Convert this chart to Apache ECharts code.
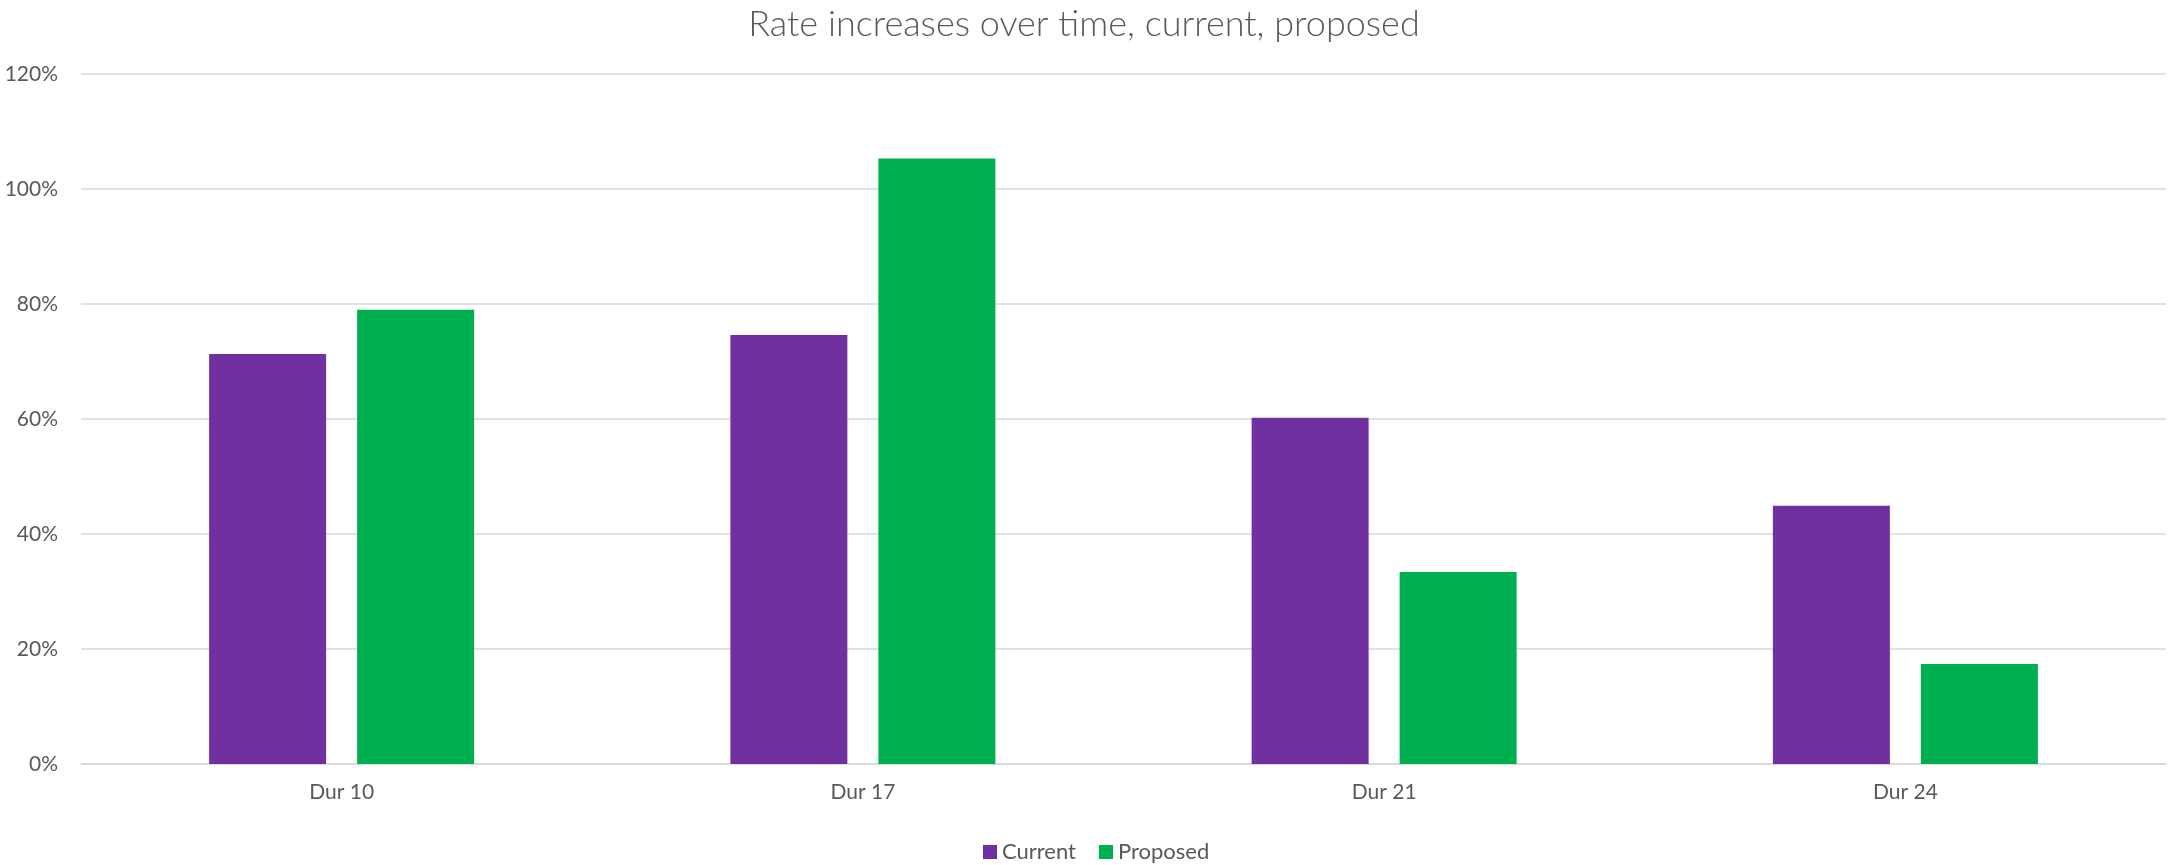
<!DOCTYPE html>
<html>
<head>
<meta charset="utf-8">
<script src="https://cdn.jsdelivr.net/npm/echarts@6/dist/echarts.min.js"></script>
<style>html,body{margin:0;padding:0;background:#fff}#c{width:2168px;height:865px}</style>
</head>
<body>
<div id="c"></div>
<script>
const categories = ['Dur 10', 'Dur 17', 'Dur 21', 'Dur 24'];
const currentValues = [71.3, 74.6, 60.2, 44.9];
const proposedValues = [79.0, 105.3, 33.4, 17.4];
const seriesNames = ['Current', 'Proposed'];
const titleText = 'Rate increases over time, current, proposed';

const chart = echarts.init(document.getElementById('c'), null, {renderer: 'canvas'});
const txt = '#595959';
chart.setOption({
  animation: false,
  backgroundColor: '#ffffff',
  title: {
    text: titleText,
    left: 'center',
    top: 1,
    textStyle: {fontFamily: 'Lato', fontWeight: 300, fontSize: 36, color: txt}
  },
  legend: {
    data: seriesNames,
    left: 983,
    top: 841,
    itemWidth: 14,
    itemHeight: 14,
    itemGap: 23,
    icon: 'rect',
    padding: 0,
    textStyle: {fontFamily: 'Lato', fontSize: 22, color: txt}
  },
  grid: {left: 81, right: 2, top: 74, bottom: 101, containLabel: false},
  xAxis: {
    type: 'category',
    data: categories,
    axisLine: {lineStyle: {color: '#d9d9d9', width: 1.5}},
    axisTick: {show: false},
    axisLabel: {fontFamily: 'Lato', fontSize: 21, color: txt, margin: 18}
  },
  yAxis: {
    type: 'value',
    min: 0,
    max: 120,
    interval: 20,
    axisLine: {show: false},
    axisTick: {show: false},
    splitLine: {lineStyle: {color: '#d9d9d9', width: 1.5}},
    axisLabel: {fontFamily: 'Lato', fontSize: 21, color: txt, margin: 23, formatter: '{value}%'}
  },
  series: [
    {name: seriesNames[0], type: 'bar', data: currentValues, barWidth: 117, barGap: '26.5%', itemStyle: {color: '#7030A0'}},
    {name: seriesNames[1], type: 'bar', data: proposedValues, barWidth: 117, itemStyle: {color: '#00B050'}}
  ]
});
</script>
</body>
</html>
